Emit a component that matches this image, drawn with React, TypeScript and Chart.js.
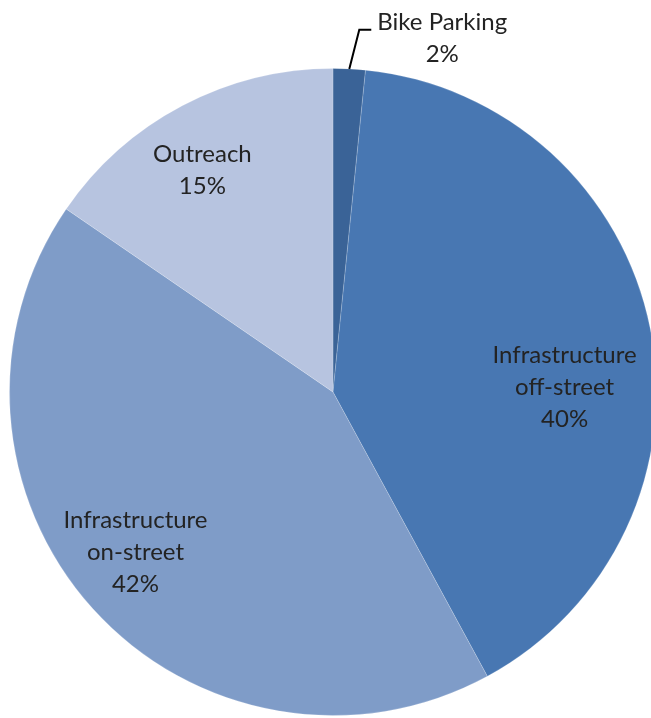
import React, { useEffect, useRef } from "react";
import { Chart, registerables } from "chart.js";

Chart.register(...registerables);

const categories = ["Bike Parking", "Infrastructure off-street", "Infrastructure on-street", "Outreach"];
const values = [1.6, 40.4, 42.4, 15.4];
const percentLabels = ["2%", "40%", "42%", "15%"];
const labelLines = [["Bike Parking"], ["Infrastructure", "off-street"], ["Infrastructure", "on-street"], ["Outreach"]];
const colors = ["#3A6397", "#4877B2", "#7F9CC8", "#B7C4E0"];

// label placement per slice: radius fraction and angle nudge (degrees)
const labelRadius = [0, 0.716, 0.787, 0.796];
const labelNudge = [0, 10.2, 2.9, -2.7];

const FONT = "24px Lato";
const LINE_H = 32;

const labelPlugin = {
  id: "sliceLabels",
  afterDatasetsDraw(chart: any) {
    const ctx = chart.ctx;
    const meta = chart.getDatasetMeta(0);
    ctx.save();
    ctx.font = FONT;
    ctx.fillStyle = "#232323";
    ctx.textBaseline = "middle";
    ctx.textAlign = "center";
    meta.data.forEach((arc: any, i: number) => {
      const { x, y, startAngle, endAngle, outerRadius } = arc.getProps(["x", "y", "startAngle", "endAngle", "outerRadius"], true);
      const mid = (startAngle + endAngle) / 2;
      const lines = [...labelLines[i], percentLabels[i]];
      if (i === 0) {
        // outside label with leader line
        const ex = x + Math.cos(mid) * outerRadius;
        const ey = y + Math.sin(mid) * outerRadius;
        const kx = ex + 10;
        const ky = y - outerRadius * 1.12;
        const hx = kx + 12;
        ctx.strokeStyle = "#000";
        ctx.lineWidth = 2;
        ctx.beginPath();
        ctx.moveTo(ex, ey);
        ctx.lineTo(kx, ky);
        ctx.lineTo(hx, ky);
        ctx.stroke();
        const w = ctx.measureText(labelLines[0][0]).width;
        const left = hx + 6;
        const cxT = left + w / 2;
        ctx.fillText(lines[0], cxT, ky - 7);
        ctx.fillText(lines[1], cxT, ky - 7 + LINE_H);
        return;
      }
      const a = mid + (labelNudge[i] * Math.PI) / 180;
      const r = outerRadius * labelRadius[i];
      const lx = x + Math.cos(a) * r;
      const ly = y + Math.sin(a) * r;
      const top = ly - ((lines.length - 1) * LINE_H) / 2;
      lines.forEach((t, k) => ctx.fillText(t, lx, top + k * LINE_H));
    });
    ctx.restore();
  },
};

export default function App() {
  const ref = useRef<HTMLCanvasElement>(null);
  useEffect(() => {
    if (!ref.current) return;
    const chart = new Chart(ref.current, {
      type: "pie",
      data: {
        labels: categories,
        datasets: [
          {
            data: values,
            backgroundColor: colors,
            borderColor: "rgba(255,255,255,0.18)",
            borderWidth: 1,
          },
        ],
      },
      options: {
        responsive: false,
        animation: false,
        layout: { padding: { left: 9, top: 68, right: 23, bottom: 24 } },
        plugins: {
          legend: { display: false },
          tooltip: { enabled: false },
        },
      },
      plugins: [labelPlugin],
    });
    return () => chart.destroy();
  }, []);
  return (
    <div style={{ position: "fixed", left: 0, top: 0, width: 651, height: 718, overflow: "hidden", background: "#fff" }}>
      <canvas ref={ref} width={680} height={740} style={{ position: "absolute", left: 0, top: 0, width: 680, height: 740 }} />
    </div>
  );
}
